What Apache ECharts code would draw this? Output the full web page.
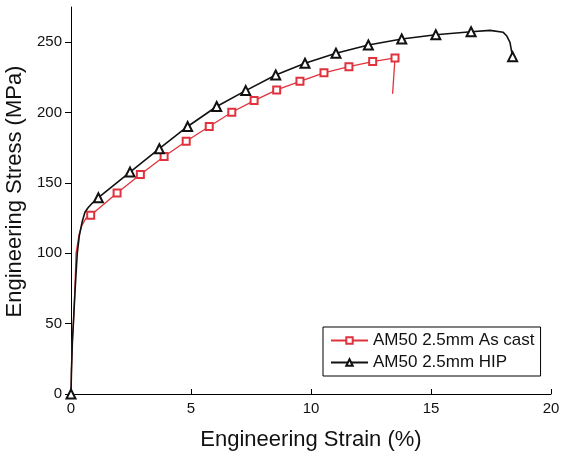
<!DOCTYPE html>
<html>
<head>
<meta charset="utf-8">
<script src="https://cdn.jsdelivr.net/npm/echarts@6/dist/echarts.min.js"></script>
<style>
html,body{margin:0;padding:0;background:#fff;}
#chart{width:563px;height:452px;}
</style>
</head>
<body>
<div id="chart"></div>
<script>
// ---- data ----
var seriesNames = ['AM50 2.5mm As cast', 'AM50 2.5mm HIP'];
var xTicks = [0, 5, 10, 15, 20];
var yTicks = [0, 50, 100, 150, 200, 250];

var asCastStrain = [0, 0.02, 0.06, 0.10, 0.16, 0.21, 0.33, 0.46, 0.62, 0.82, 1.92, 2.89, 3.88, 4.80, 5.76, 6.70, 7.63, 8.57, 9.54, 10.54, 11.58, 12.57, 13.50, 13.40];
var asCastStress = [0, 17, 38, 50, 73, 100, 112.8, 120, 124.8, 127, 142.8, 156, 168.8, 179.6, 190.1, 200.2, 208.5, 216.1, 222.2, 228.2, 232.6, 236.2, 238.8, 213.3];
var asCastMarked = [0, 0, 0, 0, 0, 0, 0, 0, 0, 1, 1, 1, 1, 1, 1, 1, 1, 1, 1, 1, 1, 1, 1, 0];

var hipStrain = [0, 0.02, 0.06, 0.10, 0.17, 0.26, 0.35, 0.46, 0.58, 0.71, 0.88, 1.14, 2.46, 3.68, 4.86, 6.07, 7.28, 8.53, 9.75, 11.04, 12.39, 13.78, 15.20, 16.67, 17.46, 18.01, 18.15, 18.29, 18.40];
var hipStress = [0, 17, 38, 50.4, 73.8, 99.8, 112.8, 122, 129.1, 132.3, 135.5, 139.5, 157.7, 174.3, 190.1, 204.3, 215.6, 226.7, 235.0, 242.1, 248.0, 252.3, 255.3, 257.4, 258.4, 257.0, 254.6, 249.9, 239.7];
var hipMarked = [1, 0, 0, 0, 0, 0, 0, 0, 0, 0, 0, 1, 1, 1, 1, 1, 1, 1, 1, 1, 1, 1, 1, 1, 0, 0, 0, 0, 1];

function build(xs, ys, marks) {
  return xs.map(function (x, i) {
    var item = { value: [x, ys[i]] };
    if (!marks[i]) item.symbol = 'none';
    return item;
  });
}

var FONT = '"Liberation Sans", Arial, sans-serif';
var chart = echarts.init(document.getElementById('chart'), null, { renderer: 'canvas' });
chart.setOption({
  backgroundColor: '#fff',
  animation: false,
  grid: { left: 71, right: 12, top: 7, bottom: 58, containLabel: false, outerBoundsMode: 'none' },
  legend: {
    orient: 'vertical',
    left: 323,
    top: 327,
    width: 219,
    padding: [5, 6, 5, 7],
    itemGap: 5,
    itemWidth: 37,
    itemHeight: 8,
    borderColor: '#000',
    borderWidth: 1,
    backgroundColor: '#fff',
    textStyle: { fontFamily: FONT, fontSize: 17, color: '#111', lineHeight: 17 },
    data: seriesNames
  },
  xAxis: {
    type: 'value',
    min: 0, max: 20, interval: 5,
    name: 'Engineering Strain (%)',
    nameLocation: 'middle',
    nameGap: 35,
    nameTextStyle: { fontFamily: FONT, fontSize: 22, color: '#111' },
    axisLine: { show: true, onZero: false, lineStyle: { color: '#000', width: 1 } },
    axisTick: { show: true, inside: true, length: 5, lineStyle: { color: '#000' }, customValues: xTicks },
    axisLabel: { fontFamily: FONT, fontSize: 15, color: '#111', margin: 7, customValues: xTicks },
    splitLine: { show: false }
  },
  yAxis: {
    type: 'value',
    min: 0, max: 275,
    name: 'Engineering Stress (MPa)',
    nameLocation: 'middle',
    nameGap: 41,
    nameTextStyle: { fontFamily: FONT, fontSize: 22, color: '#111', padding: [0, 0, 0, 18] },
    axisLine: { show: true, onZero: false, lineStyle: { color: '#000', width: 1 } },
    axisTick: { show: true, inside: false, length: 6, lineStyle: { color: '#000' }, customValues: yTicks },
    axisLabel: { fontFamily: FONT, fontSize: 15, color: '#111', margin: 9, customValues: yTicks },
    splitLine: { show: false }
  },
  series: [
    {
      name: seriesNames[0],
      type: 'line',
      data: build(asCastStrain, asCastStress, asCastMarked),
      symbol: 'emptyRect',
      symbolSize: 7,
      showAllSymbol: true,
      color: '#e0323c',
      lineStyle: { color: '#e0323c', width: 1.3 },
      itemStyle: { color: '#e0323c', borderColor: '#e0323c', borderWidth: 1.2 },
      z: 2
    },
    {
      name: seriesNames[1],
      type: 'line',
      data: build(hipStrain, hipStress, hipMarked),
      symbol: 'emptyTriangle',
      symbolSize: 9,
      showAllSymbol: true,
      color: '#111',
      lineStyle: { color: '#111', width: 1.6 },
      itemStyle: { color: '#111', borderColor: '#111', borderWidth: 1.2 },
      z: 3
    }
  ]
});
</script>
</body>
</html>
